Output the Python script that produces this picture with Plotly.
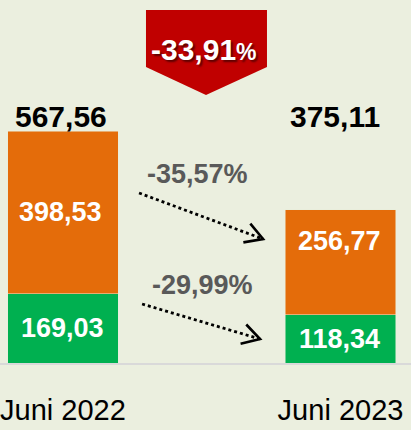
import math
import plotly.graph_objects as go

categories = ["Juni 2022", "Juni 2023"]
green_vals = [169.03, 118.34]
orange_vals = [398.53, 256.77]
totals = [567.56, 375.11]
seg_changes = ["-35,57%", "-29,99%"]
total_change = "-33,91"

def fmt(v):
    return f"{v:.2f}".replace(".", ",")

FONT = "Liberation Sans Narrow, Arial Narrow, Liberation Sans, Arial, sans-serif"

PX_X = 277.5      # pixels per category unit
PX_Y = 0.40877    # pixels per value unit
PLOT_H = 363

fig = go.Figure()
fig.add_bar(x=categories, y=green_vals, marker=dict(color="#00B050", line=dict(width=0.5, color="#E8EDD9")), width=0.397)
fig.add_bar(x=categories, y=orange_vals, marker=dict(color="#E46C0A", line=dict(width=0.5, color="#E8EDD9")), width=0.397)

ann = []
for i, c in enumerate(categories):
    ann.append(dict(x=c, y=green_vals[i] / 2, text="<b>" + fmt(green_vals[i]) + "</b>", showarrow=False,
                    xanchor="center", yanchor="middle", xshift=-1,
                    font=dict(family=FONT, size=27, color="white")))
    ys = orange_vals[i] / 2 if i == 0 else orange_vals[i] * 0.7
    ann.append(dict(x=c, y=green_vals[i] + ys, text="<b>" + fmt(orange_vals[i]) + "</b>", showarrow=False,
                    xanchor="center", yanchor="middle", xshift=-3 if i == 0 else -1,
                    font=dict(family=FONT, size=27, color="white")))
    ann.append(dict(x=c, y=(PLOT_H - 116) / PLOT_H, yref="paper", text="<b>" + fmt(totals[i]) + "</b>",
                    showarrow=False, xanchor="center", yanchor="middle", xshift=-2 if i == 0 else -6,
                    font=dict(family=FONT, size=30, color="black")))

ann.append(dict(x=0.486, y=(PLOT_H - 174) / PX_Y, text="<b>" + seg_changes[0] + "</b>", showarrow=False,
                xanchor="center", yanchor="middle",
                font=dict(family=FONT, size=27, color="#595959")))
ann.append(dict(x=0.504, y=(PLOT_H - 285) / PX_Y, text="<b>" + seg_changes[1] + "</b>", showarrow=False,
                xanchor="center", yanchor="middle",
                font=dict(family=FONT, size=27, color="#595959")))

# dotted arrows with open chevron heads
arrows = [((0.274, 415.9), (0.721, 303.3)), ((0.285, 144.3), (0.710, 58.7))]
shapes = []
for (x0, y0), (x1, y1) in arrows:
    shapes.append(dict(type="line", xref="x", yref="y", x0=x0, y0=y0, x1=x1, y1=y1,
                       line=dict(color="black", width=2.8, dash="dot")))
    dxp = (x1 - x0) * PX_X
    dyp = -(y1 - y0) * PX_Y
    ang = math.atan2(dyp, dxp) + math.pi
    pts = []
    for da in (math.radians(30), -math.radians(30)):
        a = ang + da
        px, py = 20 * math.cos(a), 20 * math.sin(a)
        pts.append((x1 + px / PX_X, y1 - py / PX_Y))
    path = f"M {pts[0][0]:.4f},{pts[0][1]:.3f} L {x1:.4f},{y1:.3f} L {pts[1][0]:.4f},{pts[1][1]:.3f}"
    shapes.append(dict(type="path", xref="x", yref="y", path=path, line=dict(color="black", width=2.6)))

# red banner
bpts = [(146, 10), (267, 10), (267, 67), (206, 95), (146, 67)]
path = "M " + " L ".join(f"{px/411:.4f},{(PLOT_H-py)/PLOT_H:.4f}" for px, py in bpts) + " Z"
shapes.append(dict(type="path", xref="paper", yref="paper", path=path,
                   fillcolor="#C00000", line=dict(width=0)))
ann.append(dict(x=204 / 411, y=(PLOT_H - 49) / PLOT_H, xref="paper", yref="paper", showarrow=False,
                xanchor="center", yanchor="middle",
                text="<b>" + total_change + "<span style='font-size:23px'>%</span></b>",
                font=dict(family=FONT, size=30, color="white",
                          shadow="2px 2px 2px rgba(60,0,0,0.75)")))

fig.update_layout(
    barmode="stack",
    width=411, height=430,
    margin=dict(l=0, r=0, t=0, b=67, pad=0, autoexpand=False),
    paper_bgcolor="#EBEFDF", plot_bgcolor="#EBEFDF",
    showlegend=False,
    annotations=ann, shapes=shapes,
    xaxis=dict(type="category", range=[-0.227, 1.254], autorange=False, showline=True, linecolor="#D9D9D9",
               linewidth=2, showgrid=False, zeroline=False, ticks="",
               ticklabelstandoff=20, ticklabeloverflow="allow", automargin=False,
               tickfont=dict(family=FONT, size=29, color="black")),
    yaxis=dict(range=[0, PLOT_H / PX_Y], autorange=False, visible=False, showgrid=False, zeroline=False),
)

fig.write_html("out.html", config={"displayModeBar": False},
               post_script="document.body.style.margin='0';document.body.style.padding='0';"
                           "document.body.style.overflow='hidden';")
